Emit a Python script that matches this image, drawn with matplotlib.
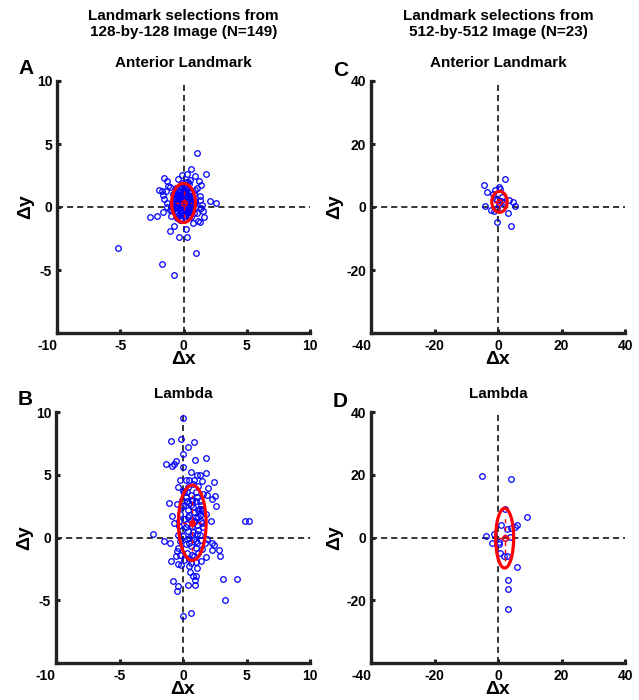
import numpy as np
import matplotlib
matplotlib.use('Agg')
import matplotlib.pyplot as plt
from matplotlib.patches import Ellipse

plt.rcParams['font.family'] = ['Liberation Sans', 'DejaVu Sans']
plt.rcParams['font.weight'] = 'bold'

# ---- data (dx, dy) ----
# A: anterior landmark, 128x128 image (N=149)
ant128 = np.array([
    (1.05, 4.29), (0.61, 3.02), (1.79, 2.62), (-0.08, 2.54), (0.24, 2.59), (0.90, 2.46), (-0.40, 2.20),
    (-1.55, 2.33), (-1.32, 2.06), (1.21, 2.06), (0.50, 2.14), (0.37, 2.01), (1.37, 1.72), (-1.21, 1.69),
    (1.05, 1.53), (0.92, 1.35), (-1.92, 1.35), (-1.69, 1.30), (-1.03, 1.61), (-1.42, 1.27), (-1.61, 0.93),
    (-1.53, 0.61), (-1.32, 0.34), (2.06, 0.50), (2.56, 0.32), (1.29, 0.87), (1.34, 0.56), (1.48, 0.13),
    (1.42, -0.11), (1.63, -0.77), (1.53, -0.34), (1.13, -1.08), (1.34, -1.22), (0.74, -1.24), (0.18, -1.72),
    (-0.76, -1.51), (-1.03, -1.88), (-0.34, -2.41), (0.26, -2.35), (-1.61, -0.37), (-0.95, -0.71),
    (-2.66, -0.79), (-2.08, -0.69), (-5.16, -3.23), (-1.69, -4.55), (-0.76, -5.42), (0.95, -3.68),
    (-0.55, -0.90), (-0.24, -1.03), (0.42, -0.77), (1.08, -0.50), (0.69, -0.11), (0.87, 0.29), (0.34, -0.24),
    (-0.50, 0.03), (-0.76, 0.42), (-0.63, 0.95), (-0.24, 1.22), (0.16, 1.48), (0.42, 1.22), (0.55, 0.69),
    (-1.03, -0.24), (-1.29, -0.03),
    (-0.5, 0.2), (0.1, 0.5), (0.3, -0.2), (-0.2, 0.8), (0.6, 0.4), (-0.7, 0.6), (0.2, 1.1), (-0.1, -0.4),
    (0.5, 0.9), (-0.4, 1.3), (0.0, 0.1), (0.4, 0.0), (-0.3, -0.1), (0.7, 0.2), (-0.6, -0.3), (0.1, 1.6),
    (-0.1, 1.9), (0.3, 1.4), (-0.8, 1.0), (0.8, 1.0), (-0.2, 0.3), (0.2, 0.3), (0.0, 0.7), (-0.5, 0.9),
    (0.5, -0.4), (-0.4, -0.6), (0.1, -0.7), (0.6, -0.8), (-0.9, 0.2), (0.9, 0.5), (-0.3, 0.5), (0.3, 0.8),
    (0.0, 1.2), (-0.6, 1.5), (0.4, 1.8), (-0.2, -0.9), (0.2, -0.5), (0.7, -0.2), (-0.7, -0.1), (0.1, 0.0),
    (-0.1, 0.4), (0.4, 0.6), (-0.4, 0.0), (0.0, -0.2), (0.6, 1.3), (-0.8, 0.5), (0.2, 2.0), (-0.3, 1.7),
    (0.5, 0.2), (-0.5, -0.5), (0.3, 0.2), (-0.2, 1.0), (0.1, 0.9), (-0.6, 0.3), (0.8, -0.5), (0.0, 0.4),
    (-0.1, 0.0), (0.2, 0.6), (-0.4, 0.7), (0.5, 1.1), (0.0, -0.6), (-0.7, 1.2), (0.7, 0.7), (-0.3, -0.3),
    (0.3, -0.4), (0.1, 1.3), (-0.1, 1.5), (0.4, -0.6), (-0.9, -0.2), (0.9, 0.0), (-0.2, 0.6), (0.2, 0.1),
    (0.0, 1.0), (-0.5, 0.5), (0.5, 0.5), (-0.3, 0.9), (0.3, 1.0), (0.0, 0.3), (-0.1, 0.2), (0.1, 0.2),
    (-0.4, 1.0), (0.4, 0.4), (-0.2, -0.6), (0.2, -0.1), (0.6, 0.0), (-0.6, 0.0), (0.0, 1.6),
])

# B: lambda, 128x128 image (N=149)
lam128 = np.array([
    (0.03, 9.55), (-0.97, 7.65), (-0.13, 7.83), (0.90, 7.62), (0.37, 7.25), (0.03, 6.69), (-1.37, 5.87),
    (-0.58, 6.11), (-0.71, 5.85), (-0.87, 5.66), (0.03, 5.63), (0.97, 6.19), (1.82, 6.30), (1.84, 5.11),
    (1.13, 4.97), (1.37, 4.97), (0.90, 4.58), (1.50, 4.52), (-0.21, 4.55), (0.50, 4.60), (2.42, 4.42),
    (1.95, 3.97), (-0.42, 3.99), (0.00, 3.70), (0.29, 3.65), (2.53, 3.33), (2.27, 3.10), (1.90, 3.39),
    (2.61, 2.51), (-1.11, 2.75), (-0.50, 2.67), (-0.18, 2.41), (0.45, 2.78), (0.74, 2.88), (1.03, 2.88),
    (1.37, 2.88), (1.53, 2.25), (1.21, 2.20), (-0.87, 1.72), (-0.71, 1.16), (-0.32, 0.90), (0.90, 1.35),
    (1.21, 1.61), (2.21, 1.35), (1.48, 1.19), (4.90, 1.32), (5.16, 1.35), (-2.37, 0.26), (-1.50, -0.24),
    (-1.03, -0.40), (-0.42, 0.19), (-0.47, -1.06), (0.47, -0.40), (1.08, -0.45), (1.37, 0.16), (2.29, -0.45),
    (2.48, -0.58), (2.27, -0.98), (2.85, -1.03), (2.92, -1.46), (1.79, -1.53), (-0.97, -1.88), (-0.53, -1.51),
    (-0.40, -2.09), (-0.18, -2.20), (0.63, -2.01), (1.00, -1.96), (1.11, -2.41), (0.58, -2.75), (0.76, -3.07),
    (1.03, -3.07), (0.92, -3.41), (-0.79, -3.44), (-0.40, -3.89), (-0.47, -4.29), (0.37, -3.81), (0.95, -3.81),
    (3.16, -3.33), (4.22, -3.31), (3.32, -5.00), (0.03, -6.22), (0.63, -6.03),
    (0.2, 3.2), (0.6, 3.4), (1.0, 3.6), (0.4, 2.2), (0.8, 2.4), (1.4, 2.6), (-0.2, 1.9), (0.1, 1.5),
    (0.5, 1.8), (0.9, 2.0), (1.3, 1.8), (0.3, 1.1), (0.7, 0.9), (1.1, 1.0), (1.6, 0.8), (-0.1, 0.6),
    (0.4, 0.5), (0.8, 0.4), (1.2, 0.6), (0.0, 0.1), (0.5, 0.0), (0.9, -0.1), (1.4, -0.2), (0.2, -0.5),
    (0.6, -0.7), (1.0, -0.8), (1.5, -0.9), (-0.2, -0.3), (0.3, -1.2), (0.7, -1.4), (1.2, -1.2), (0.1, -1.8),
    (0.5, -1.7), (0.9, -1.5), (1.7, -0.4), (0.3, 2.9), (0.7, 3.0), (1.1, 3.2), (0.0, 2.5), (0.6, 1.4),
    (1.0, 1.6), (1.4, 1.3), (-0.3, 1.3), (0.2, 0.8), (1.8, 1.9), (0.4, 4.0), (0.8, 4.3), (1.2, 4.1),
    (-0.1, 3.0), (1.6, 3.5), (0.3, -0.1), (0.7, 0.2), (1.1, 0.3), (-0.4, -0.8), (1.9, -0.1), (0.6, 2.6),
    (1.3, 2.3), (0.2, 4.6), (0.5, -2.3), (1.4, -1.9), (-0.2, -1.4), (0.9, 1.2), (0.4, 1.6), (1.5, 2.1),
    (0.1, 3.6), (1.0, -0.3), (0.6, 5.2),
])

# C: anterior landmark, 512x512 image (N=23)
ant512 = np.array([
    (-4.36, 6.98), (2.15, 8.89), (-3.31, 4.87), (-1.00, 5.40), (0.16, 6.35), (0.68, 5.71), (-1.63, 4.02),
    (-0.68, 2.54), (1.31, 3.07), (3.52, 2.12), (4.57, 1.48), (5.30, 0.42), (-4.15, 0.32), (-2.15, -0.95),
    (-1.31, -1.27), (-0.37, -0.42), (3.10, -1.90), (-0.26, -4.87), (4.15, -6.14), (0.79, 2.01),
    (0.37, 1.06), (1.42, 1.48), (-0.16, 2.12),
])

# D: lambda, 512x512 image (N=23)
lam512 = np.array([
    (-4.93, 19.68), (3.99, 18.52), (9.13, 6.46), (2.10, 8.99), (5.98, 4.02), (5.35, 3.39), (3.99, 2.96),
    (1.05, 4.02), (2.83, 2.65), (-1.36, 1.16), (-3.78, 0.63), (3.67, 0.11), (2.10, -0.21), (-1.99, -1.90),
    (0.42, -2.01), (0.73, -4.87), (1.99, -6.03), (2.94, -5.82), (5.88, -9.42), (3.04, -13.44),
    (3.04, -16.30), (3.04, -22.65), (0.21, -1.59),
])

# ellipse: (cx, cy, semi-x, semi-y)
ell_ant128 = (0.0, 0.32, 0.94, 1.55)
ell_lam128 = (0.73, 1.17, 1.09, 3.0)
ell_ant512 = (0.47, 1.64, 2.42, 3.33)
ell_lam512 = (2.1, -0.21, 2.83, 9.52)

lim128 = 10
lim512 = 40
ticks128 = [-10, -5, 0, 5, 10]
ticks512 = [-40, -20, 0, 20, 40]

W, H = 639, 700
fig = plt.figure(figsize=(W / 100, H / 100), dpi=100)

def px_rect(left, top, right, bottom):
    return [left / W, 1 - bottom / H, (right - left) / W, (bottom - top) / H]

panels = [
    (px_rect(57, 81, 310, 333), ant128, ell_ant128, lim128, ticks128, 'Anterior Landmark', 'A', (18, 74), False),
    (px_rect(56, 412, 310, 663), lam128, ell_lam128, lim128, ticks128, 'Lambda', 'B', (18, 405), True),
    (px_rect(371, 81, 625, 333), ant512, ell_ant512, lim512, ticks512, 'Anterior Landmark', 'C', (333, 76), False),
    (px_rect(371, 412, 625, 663), lam512, ell_lam512, lim512, ticks512, 'Lambda', 'D', (333, 407), False),
]

spine_col = '#222222'
for rect, pts, ell, lim, ticks, title, letter, lpos, filled in panels:
    ax = fig.add_axes(rect)
    ax.axhline(0, color='k', lw=1.1, ls=(0, (4, 2.6)), zorder=1)
    ax.axvline(0, color='k', lw=1.1, ls=(0, (4, 2.6)), zorder=1)
    ax.plot(pts[:, 0], pts[:, 1], 'o', mfc='none', mec='#0000ff', ms=4.0, mew=0.9, zorder=2)

    cx, cy, a, b = ell
    ax.add_patch(Ellipse((cx, cy), 2 * a, 2 * b, fill=False, ec='red', lw=2.3, zorder=3))
    ax.plot([cx, cx], [cy - 0.75 * b, cy + 0.75 * b], color='red', lw=1.0, ls=(0, (3, 2.5)), zorder=3)
    ax.plot([cx - 0.75 * a, cx + 0.75 * a], [cy, cy], color='red', lw=1.0, ls=(0, (3, 2.5)), zorder=3)
    ax.plot(cx, cy, 'o', color='red', ms=4, mew=1.0, mfc='red' if filled else 'none', zorder=4)

    ax.set_xlim(-lim, lim)
    ax.set_ylim(-lim, lim)
    ax.set_xticks(ticks)
    ax.set_yticks(ticks)
    ax.set_yticklabels([''] + [str(t) for t in ticks[1:]])
    ax.set_xticklabels([str(t) for t in ticks])
    ax.get_xticklabels()[0].set_horizontalalignment('right')

    for s in ['top', 'right']:
        ax.spines[s].set_visible(False)
    for s in ['left', 'bottom']:
        ax.spines[s].set_linewidth(2.4)
        ax.spines[s].set_color(spine_col)
    ax.tick_params(direction='in', length=3, width=2.2, color=spine_col,
                   labelsize=10, pad=4)
    ax.tick_params(axis='y', pad=3.5)
    for lab in ax.get_xticklabels() + ax.get_yticklabels():
        lab.set_fontweight('bold')

    ax.set_xlabel('Δx', fontsize=14, fontweight='bold', labelpad=-1)
    ax.set_ylabel('Δy', fontsize=14, fontweight='bold', labelpad=2)
    ax.set_title(title, fontsize=11, fontweight='bold', pad=10)

    fig.text(lpos[0] / W, 1 - lpos[1] / H, letter, fontsize=15, fontweight='bold',
             ha='left', va='baseline')

fig.text(183.5 / W, 1 - 24 / H, 'Landmark selections from\n128-by-128 Image (N=149)',
         ha='center', va='center', fontsize=11, fontweight='bold', linespacing=1.1)
fig.text(498 / W, 1 - 24 / H, 'Landmark selections from\n512-by-512 Image (N=23)',
         ha='center', va='center', fontsize=11, fontweight='bold', linespacing=1.1)

fig.savefig('out.png', dpi=100)
